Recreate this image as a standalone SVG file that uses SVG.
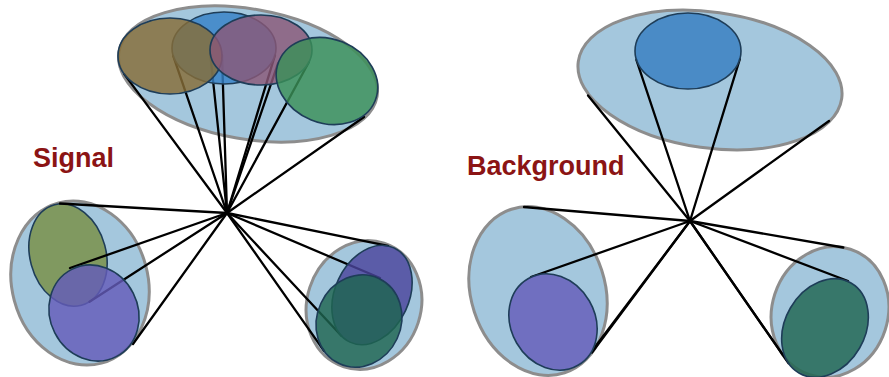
<svg xmlns="http://www.w3.org/2000/svg" width="889" height="377" viewBox="0 0 889 377">
  <style>
    .hull { fill: #A4C7DD; stroke: #8d8d8d; stroke-width: 3; }
    .set { stroke: #1e3d58; stroke-width: 1.6; fill-opacity: 0.82; }
    .ray { stroke: #000; stroke-width: 2.3; stroke-linecap: round; }
    .label { font-family: "Liberation Sans", Arial, sans-serif; font-weight: bold; font-size: 27px; fill: #8B1414; }
  </style>
  <rect width="889" height="377" fill="#fff"/>

  <!-- outer hulls -->
  <g id="signal-top-hull"><ellipse class="hull" cx="248" cy="74" rx="131" ry="65" transform="rotate(10 248 74)"/></g>
  <g id="signal-left-hull"><ellipse class="hull" cx="80" cy="283" rx="68" ry="83" transform="rotate(-15 80 283)"/></g>
  <g id="signal-right-hull"><ellipse class="hull" cx="364" cy="305" rx="57" ry="65" transform="rotate(18 364 305)"/></g>
  <g id="bg-top-hull"><ellipse class="hull" cx="710" cy="80" rx="133" ry="68" transform="rotate(8 710 80)"/></g>
  <g id="bg-left-hull"><ellipse class="hull" cx="538" cy="291" rx="67" ry="86" transform="rotate(-18 538 291)"/></g>
  <g id="bg-right-hull"><ellipse class="hull" cx="830" cy="312" rx="58" ry="66" transform="rotate(18 830 312)"/></g>

  <!-- lower set of the left signal cluster sits beneath the rays -->
  <g id="signal-left-set-a"><ellipse class="set" fill="#788F44" cx="68" cy="255" rx="38" ry="52" transform="rotate(-15 68 255)"/></g>

  <!-- rays from the two vertices -->
  <g id="connectors">
    <line class="ray" x1="227" y1="213" x2="124.3" y2="74.1"/>
    <line class="ray" x1="227" y1="213" x2="222" y2="55.1"/>
    <line class="ray" x1="227" y1="213" x2="173.3" y2="56.1"/>
    <line class="ray" x1="227" y1="213" x2="275" y2="55.2"/>
    <line class="ray" x1="227" y1="213" x2="210.1" y2="52.5"/>
    <line class="ray" x1="227" y1="213" x2="308.8" y2="62.2"/>
    <line class="ray" x1="227" y1="213" x2="278" y2="63.3"/>
    <line class="ray" x1="227" y1="213" x2="364" y2="117"/>
    <line class="ray" x1="227" y1="213" x2="60" y2="203.5"/>
    <line class="ray" x1="227" y1="213" x2="89.5" y2="301.7"/>
    <line class="ray" x1="227" y1="213" x2="70" y2="268"/>
    <line class="ray" x1="227" y1="213" x2="133" y2="344"/>
    <line class="ray" x1="227" y1="213" x2="341.6" y2="336"/>
    <line class="ray" x1="227" y1="213" x2="388" y2="245.9"/>
    <line class="ray" x1="227" y1="213" x2="324" y2="350.8"/>
    <line class="ray" x1="227" y1="213" x2="380" y2="278"/>

    <line class="ray" x1="690" y1="221" x2="588" y2="95.5"/>
    <line class="ray" x1="690" y1="221" x2="829" y2="121"/>
    <line class="ray" x1="690" y1="221" x2="636.4" y2="59.8"/>
    <line class="ray" x1="690" y1="221" x2="739.8" y2="59.2"/>
    <line class="ray" x1="690" y1="221" x2="524" y2="207"/>
    <line class="ray" x1="690" y1="221" x2="592" y2="352.6"/>
    <line class="ray" x1="690" y1="221" x2="531" y2="277"/>
    <line class="ray" x1="690" y1="221" x2="595" y2="347"/>
    <line class="ray" x1="690" y1="221" x2="843.3" y2="247.5"/>
    <line class="ray" x1="690" y1="221" x2="782.4" y2="354.2"/>
    <line class="ray" x1="690" y1="221" x2="848" y2="281"/>
    <line class="ray" x1="690" y1="221" x2="788.6" y2="363.4"/>
  </g>

  <!-- signal: top cluster -->
  <g id="signal-top">
    <ellipse class="set" fill="#3681C7" cx="224" cy="48" rx="52" ry="36"/>
    <ellipse class="set" fill="#866C37" cx="170" cy="56" rx="52" ry="38"/>
    <ellipse class="set" fill="#8A5878" cx="261" cy="50" rx="51" ry="35"/>
    <ellipse class="set" fill="#3B9058" cx="327" cy="81" rx="52" ry="42" transform="rotate(22 327 81)"/>
  </g>

  <!-- signal: lower-left cluster -->
  <g id="signal-left">
    <ellipse class="set" fill="#645CBA" cx="94" cy="313" rx="44" ry="49" transform="rotate(-27 94 313)"/>
  </g>

  <!-- signal: lower-right cluster -->
  <g id="signal-right">
    <ellipse class="set" fill="#4A449C" cx="372" cy="295" rx="37" ry="52" transform="rotate(25 372 295)"/>
    <ellipse class="set" fill="#1E6550" cx="359" cy="321" rx="42" ry="47" transform="rotate(25 359 321)"/>
  </g>

  <!-- background clusters -->
  <g id="bg-top">
    <ellipse class="set" fill="#367EC1" cx="688" cy="51" rx="53" ry="38"/>
  </g>
  <g id="bg-left">
    <ellipse class="set" fill="#645CBA" cx="553" cy="322" rx="42" ry="50" transform="rotate(-30 553 322)"/>
  </g>
  <g id="bg-right">
    <ellipse class="set" fill="#1E6550" cx="825" cy="328" rx="40" ry="52" transform="rotate(30 825 328)"/>
  </g>

  <!-- labels -->
  <text class="label" x="33" y="167">Signal</text>
  <text class="label" x="467" y="175">Background</text>
</svg>
